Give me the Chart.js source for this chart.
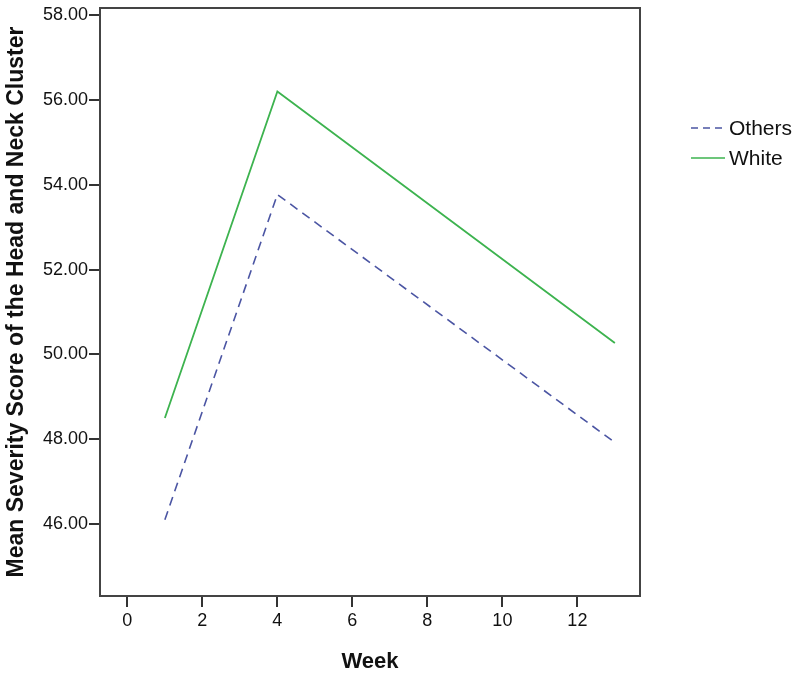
<!DOCTYPE html>
<html>
<head>
<meta charset="utf-8">
<script src="https://cdn.jsdelivr.net/npm/chart.js@4"></script>
<style>
  html, body { margin: 0; padding: 0; background: #fff; }
  #wrap { width: 800px; height: 675px; }
</style>
</head>
<body>
<div id="wrap"><canvas id="chart" width="800" height="675"></canvas></div>
<script>
// Data
const weeks = [1, 4, 13];
const othersScores = [46.10, 53.77, 47.92];
const whiteScores = [48.50, 56.20, 50.27];
const seriesNames = ['Others', 'White'];
const xTickValues = [0, 2, 4, 6, 8, 10, 12];
const yTickValues = [46, 48, 50, 52, 54, 56, 58];

const font = "'Liberation Sans', Arial, sans-serif";

// box around the plot area
const frame = {
    id: 'frame',
    afterDraw(chart) {
        const a = chart.chartArea, ctx = chart.ctx;
        ctx.save();
        ctx.strokeStyle = '#444';
        ctx.lineWidth = 2;
        ctx.strokeRect(a.left, a.top, a.right - a.left, a.bottom - a.top);
        ctx.restore();
    }
};

// legend to the right of the plot
const sideLegend = {
    id: 'sideLegend',
    afterDraw(chart) {
        const ctx = chart.ctx;
        ctx.save();
        ctx.font = '21px ' + font;
        ctx.textBaseline = 'middle';
        chart.data.datasets.forEach((ds, i) => {
            const y = 128 + i * 30;
            ctx.strokeStyle = ds.borderColor;
            ctx.lineWidth = 1.5;
            ctx.setLineDash(ds.borderDash ? [7, 5] : []);
            ctx.beginPath();
            ctx.moveTo(691, y);
            ctx.lineTo(725, y);
            ctx.stroke();
            ctx.setLineDash([]);
            ctx.fillStyle = '#111';
            ctx.fillText(ds.label, 729, y + 1);
        });
        ctx.restore();
    }
};

new Chart(document.getElementById('chart'), {
    type: 'line',
    data: {
        datasets: [{
            label: seriesNames[0],
            data: weeks.map((w, i) => ({x: w, y: othersScores[i]})),
            borderColor: '#4b55a3',
            borderWidth: 1.6,
            borderDash: [9, 6],
            pointRadius: 0,
            tension: 0
        }, {
            label: seriesNames[1],
            data: weeks.map((w, i) => ({x: w, y: whiteScores[i]})),
            borderColor: '#3db34f',
            borderWidth: 1.8,
            pointRadius: 0,
            tension: 0
        }]
    },
    options: {
        responsive: false,
        animation: false,
        layout: { padding: { top: 8, right: 160, left: 0, bottom: 0 } },
        plugins: {
            legend: { display: false },
            tooltip: { enabled: false }
        },
        scales: {
            x: {
                type: 'linear',
                min: -0.73,
                max: 13.67,
                afterBuildTicks: s => { s.ticks = xTickValues.map(v => ({value: v})); },
                afterFit: s => { s.height = 79; s.paddingLeft = 0; s.paddingRight = 0; },
                grid: { drawOnChartArea: false, drawTicks: true, tickLength: 11, color: '#333', lineWidth: 2 },
                border: { display: false },
                ticks: { color: '#111', font: { family: font, size: 18 }, padding: 3, maxRotation: 0 },
                title: {
                    display: true, text: 'Week', color: '#111',
                    font: { family: font, size: 22, weight: 'bold' },
                    padding: { top: 12, bottom: 0 }
                }
            },
            y: {
                min: 44.3,
                max: 58.17,
                afterBuildTicks: s => { s.ticks = yTickValues.map(v => ({value: v})); },
                afterFit: s => { s.width = 100; s.paddingTop = 0; s.paddingBottom = 0; },
                grid: { drawOnChartArea: false, drawTicks: true, tickLength: 11, color: '#333', lineWidth: 2 },
                border: { display: false },
                ticks: {
                    color: '#111', font: { family: font, size: 18 }, padding: 1,
                    callback: v => v.toFixed(2)
                },
                title: {
                    display: true, text: 'Mean Severity Score of the Head and Neck Cluster', color: '#111',
                    font: { family: font, size: 23, weight: 'bold' },
                    padding: { top: 3, bottom: 0 }
                }
            }
        }
    },
    plugins: [frame, sideLegend]
});
</script>
</body>
</html>
